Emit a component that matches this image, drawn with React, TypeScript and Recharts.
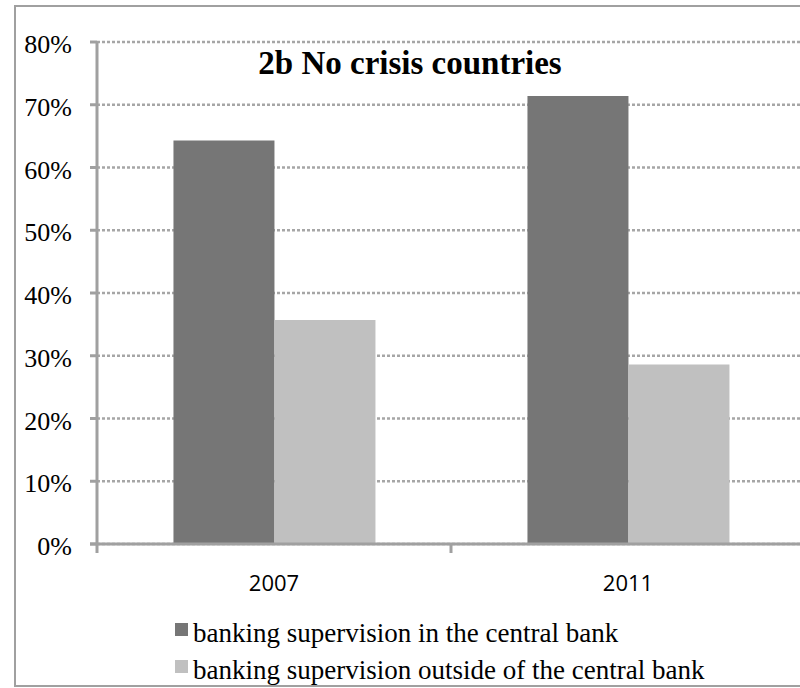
import { BarChart, Bar, XAxis, YAxis, CartesianGrid, Legend } from 'recharts'

const categories = ['2007', '2011']
const insideCentralBank = [64.3, 71.4]
const outsideCentralBank = [35.7, 28.6]
const yTicks = [0, 10, 20, 30, 40, 50, 60, 70, 80]

const SERIES_NAMES = [
  'banking supervision in the central bank',
  'banking supervision outside of the central bank',
]
const COLORS = ['#767676', '#c0c0c0']
const AXIS = '#a0a0a0'
const SERIF = "'Liberation Serif', 'DejaVu Serif', serif"

const data = categories.map((year, i) => ({
  year,
  inside: insideCentralBank[i],
  outside: outsideCentralBank[i],
}))

function YTick(props: any) {
  const { x = 0, y = 0, payload } = props
  return (
    <text x={x} y={y + 11} textAnchor="end" fill="#000" style={{ fontSize: 26, fontFamily: SERIF }}>
      {payload?.value}%
    </text>
  )
}

/** category label plus tick marks on the band boundaries (Excel style) */
function XTick(props: any) {
  const { x = 0, y = 0, payload, index = 0, visibleTicksCount = categories.length } = props
  const half = payload?.offset ?? 177
  const isLast = index === visibleTicksCount - 1
  return (
    <g>
      <line x1={x - half} x2={x - half} y1={y - 9} y2={y} stroke={AXIS} strokeWidth={3} />
      {index === 0 && (
        <line x1={x - half - 7} x2={x - half} y1={y - 9} y2={y - 9} stroke={AXIS} strokeWidth={3} />
      )}
      {isLast && <line x1={x + half} x2={x + half} y1={y - 9} y2={y} stroke={AXIS} strokeWidth={3} />}
      <text
        x={x}
        y={y + 38}
        textAnchor="middle"
        fill="#000"
        style={{ fontSize: 22, fontFamily: "'Open Sans', Lato, sans-serif" }}
      >
        {payload?.value}
      </text>
    </g>
  )
}

function LegendBox(props: any) {
  const items = props.payload?.length
    ? props.payload.map((p: any) => ({ name: p.value, color: p.color }))
    : SERIES_NAMES.map((name, i) => ({ name, color: COLORS[i] }))
  return (
    <div>
      {items.map((it: any) => (
        <div
          key={it.name}
          style={{
            position: 'relative',
            height: 37,
            lineHeight: '37px',
            fontSize: 27,
            fontFamily: SERIF,
            color: '#000',
            paddingLeft: 18,
            whiteSpace: 'nowrap',
          }}
        >
          <span
            style={{ position: 'absolute', left: 0, top: 8, width: 13, height: 13, background: it.color }}
          />
          {it.name}
        </div>
      ))}
    </div>
  )
}

export default function App() {
  return (
    <div
      style={{
        position: 'fixed',
        left: 0,
        top: 0,
        width: 800,
        height: 688,
        overflow: 'hidden',
        background: '#fff',
      }}
    >
      <div
        style={{
          position: 'absolute',
          left: 14,
          top: 5,
          width: 900,
          height: 682,
          boxSizing: 'border-box',
          border: `2px solid ${AXIS}`,
        }}
      />
      <BarChart
        width={830}
        height={688}
        data={data}
        margin={{ top: 42, right: 25, bottom: 0, left: 0 }}
        barGap={0}
        barCategoryGap="21.6%"
      >
        <CartesianGrid
          vertical={false}
          stroke="#a6a6a6"
          strokeDasharray="3 2"
          strokeWidth={2.5}
        />
        <XAxis
          dataKey="year"
          height={144}
          tickLine={false}
          tickSize={9}
          tickMargin={0}
          axisLine={{ stroke: AXIS, strokeWidth: 3 }}
          tick={<XTick />}
          interval={0}
        />
        <YAxis
          width={97}
          domain={[0, 80]}
          ticks={yTicks}
          interval={0}
          tickSize={7}
          tickMargin={18}
          axisLine={{ stroke: AXIS, strokeWidth: 3 }}
          tickLine={{ stroke: AXIS, strokeWidth: 3 }}
          tick={<YTick />}
        />
        <Legend
          layout="vertical"
          align="center"
          verticalAlign="middle"
          content={<LegendBox />}
          wrapperStyle={{ left: 175, top: 615, width: 600, height: 80 }}
        />
        <Bar dataKey="inside" name={SERIES_NAMES[0]} fill={COLORS[0]} isAnimationActive={false} />
        <Bar dataKey="outside" name={SERIES_NAMES[1]} fill={COLORS[1]} isAnimationActive={false} />
      </BarChart>
      <div
        style={{
          position: 'absolute',
          left: 160,
          width: 500,
          top: 47,
          textAlign: 'center',
          fontFamily: SERIF,
          fontWeight: 'bold',
          fontSize: 33,
          lineHeight: '33px',
          color: '#000',
        }}
      >
        2b No crisis countries
      </div>
    </div>
  )
}
